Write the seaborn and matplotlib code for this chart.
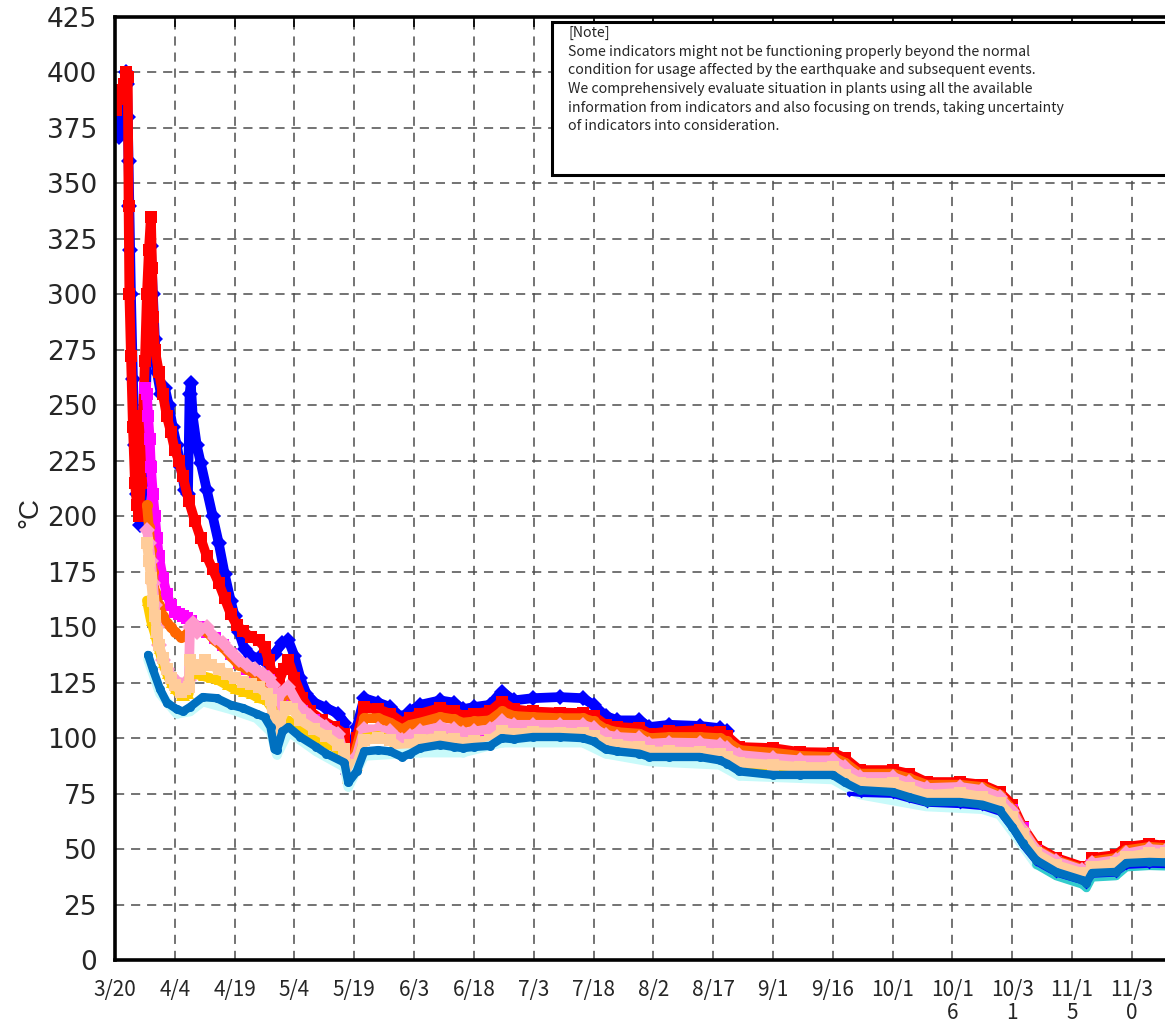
import matplotlib
matplotlib.use("Agg")
import matplotlib.pyplot as plt
from matplotlib.patches import Rectangle
import numpy as np
import pandas as pd
import seaborn as sns

START = pd.Timestamp("2011-03-20")

# (day offset from 3/20, temperature degC)
blue_pts = [(0.3,372),(1.0,371),(1.5,382),(2.2,390),(2.7,400),(3.0,395),(3.2,380),(3.4,360),(3.6,340),(3.8,320),
            (4.0,300),(4.5,262),(5.0,232),(5.5,210),(6.3,196),(7.0,215),(7.5,240),(8.0,270),(8.5,300),(9.0,322),
            (9.5,300),(10.0,280),(10.5,265),(11.5,255),(12.5,258),(13.5,250),(14.5,240),(15.5,232),(16.5,222),
            (17.5,212),(18.3,210),(18.7,255),(19.0,260),(19.5,245),(20.5,232),(21.5,224),(23.0,212),(24.5,200),
            (26.0,188),(27.5,174),(29.0,162),(30.0,155),(31.0,148),(32.5,140),(34.0,137),(36.0,136),(38.0,134),
            (40.0,138),(42.0,143),(43.5,144),(45.0,137),(46.5,127),(48.0,120),(50.0,116),(53.0,113.6),(56.0,111),
            (57.5,107),(58.5,84),(60.6,105),(62.5,118),(66,116),(69,114),(72,109),(74,112),(76.5,115),(81.5,117),
            (85,116),(87.2,113),(90,114),(94,115),(97,121),(100,117),(104.8,118),(111.5,118.5),(117.3,118),
            (120,115),(123,110),(126,108),(131.5,108),(134,105),(139,106),(146.6,105.5),(151.6,104.5),(153.5,103)]

blue_low_pts = [(184,75),(187,74.4),(195,74),(199,72),(203.5,70),(211.8,69.4),(217.5,68.5),(221.8,66),(225,58.5),
                (227.6,51),(231,43.5),(236,38.5),(242.6,35),(243.6,33.5),(245,38),(251,38.5),(253.6,42),
                (259.4,42.5),(263.5,42.3)]

red_pts = [(0.2,383),(0.8,388),(1.5,392),(2.2,395),(2.8,400),(3.2,398),(3.4,340),(3.6,300),(4.0,272),(4.5,240),
           (5.0,215),(5.5,205),(6.0,200),(6.5,215),(7.0,245),(7.5,270),(8.0,300),(8.5,320),(9.0,335),(9.3,312),
           (9.6,290),(10.0,275),(11,265),(12,255),(13,245),(14,238),(15,230),(16,225),(17,218),(18.5,207),
           (20,198),(21.5,190),(23,182),(24.5,176),(26,170),(27.5,163),(29,156),(30.5,151),(32,148.5),(34,145.5),
           (36,144),(37.5,141),(38.5,135),(39.5,129),(41,125),(42.3,131),(43.5,135),(45,127),(47,118),(49,112),
           (52,108),(55,105),(57.5,102),(58.5,84),(60.6,100),(62.5,114),(66,113),(69,111),(72,107),(74,109),
           (76.5,111),(81.5,113.6),(85,112),(87.2,110),(90,111),(94,112),(97,116.5),(100,113),(104.8,112),
           (111.5,111.5),(117.3,111.3),(120,110),(123,106),(126,105),(131.5,104.5),(134,102),(139,103),
           (146.6,103.6),(151.6,102.7),(153.5,101),(156.6,96),(165,95.5),(171.7,93.7),(180,93.5),(183,91),
           (186.7,85.6),(195,85.6),(199,84),(203.5,80.2),(211.8,80.2),(217.5,79),(221.8,75.7),(225,70),
           (227.6,60),(231,51),(236,46),(242.6,42),(243.6,40.6),(245,46),(251,47.3),(253.6,51),(259.4,52.3),
           (263.5,51.5)]

magenta_pts = [(7.5,258),(8.0,255),(8.3,245),(8.7,235),(9.0,222),(9.5,210),(10,200),(10.5,190),(11,182),(12,172),
               (13,165),(14,160),(15,157),(16,156),(17,155),(18,154),(19,153),(21,150),(23,148),(25,145),(27,142),
               (29,138),(31,134),(33,131),(35,130),(37,128),(38.5,126),(39.5,118),(40.5,112),(42,115),(43.5,118),
               (45,115),(47,112),(50,108),(53,104),(56,100),(58.5,83),(60.6,91),(62.5,103),(66,103),(69,102),
               (72,98),(74,100),(76.5,102),(81.5,104),(85,103),(87.2,101.5),(90,102),(94,103),(97,106.5),(100,105),
               (104.8,105),(111.5,105),(117.3,105),(120,103.5),(123,100.5),(126,99.5),(131.5,99),(134,96.5),
               (139,97),(146.6,96.8),(151.6,96),(153.5,94.5),(156.6,91.4),(165,90),(171.7,89),(180,89),(183,86),
               (186.7,81.5),(195,81.5),(199,79),(203.5,76.5),(211.8,77),(217.5,75.6),(221.8,72.5),(225,67.5),
               (227.6,59.5),(231,49),(236,44),(242.6,40),(243.6,38.5),(245,43),(251,44.5),(253.6,47.5),
               (259.4,49.5),(263.5,49)]

orange_pts = [(8.0,205),(8.5,195),(9.0,185),(9.5,175),(10,166),(11,160),(12,155),(13,152),(14,150),(15,148),
              (16.5,145.5),(17.5,146),(18.8,149),(21,149),(23,148),(25,144),(27,141),(29,137),(31,133),(33,131),
              (35,129),(37,127),(38.5,125),(39.5,121),(40.5,116),(42,119),(43.5,121),(46,114),(49,109),
              (53,104.5),(56,101.5),(58.5,83.5),(60.6,96),(62.5,109),(66,109),(69,107),(72,104),(74,106),
              (76.5,107),(81.5,109.5),(85,108.5),(87.2,107),(90,107.5),(94,108),(97,112),(100,110),(104.8,109.5),
              (111.5,109),(117.3,109),(120,107.5),(123,104),(126,102.7),(131.5,102),(134,100),(139,100.5),
              (146.6,100.5),(151.6,100),(153.5,98.5),(156.6,94.6),(165,93.5),(171.7,92),(180,91.5),(183,89),
              (186.7,84),(195,84),(199,82),(203.5,79),(211.8,79),(217.5,78),(221.8,74.5),(225,68),(227.6,59),
              (231,50),(236,45),(242.6,41),(243.6,39.5),(245,44.5),(251,46),(253.6,49.5),(259.4,51),(263.5,50.5)]

pink_pts = [(8.0,194),(8.5,188),(9.0,180),(9.5,170),(10,160),(10.5,150),(11,142),(12,135),(13,131),(14,128),
            (15,126),(16.5,124),(17.5,125),(18.5,126),(18.8,150),(19.5,152),(20.5,148),(21.5,149),(23,150),
            (25,145),(27,143),(29,139),(31,135),(33,133),(35,131),(37,129),(38.5,127),(39.5,124),(40.5,114),
            (41.5,120),(43.5,123),(46,115),(49,110),(53,105),(56,102),(58.5,84),(60.6,92),(62.5,104),(66,104),
            (69,103),(72,99),(74,101),(76.5,103),(81.5,105),(85,104),(87.2,102.5),(90,103),(94,104),(97,107.5),
            (100,106),(104.8,106),(111.5,106),(117.3,106),(120,104.5),(123,101.5),(126,100.5),(131.5,100),
            (134,97.5),(139,98),(146.6,97.8),(151.6,97),(153.5,95.5),(156.6,92.4),(165,91),(171.7,90),(180,90),
            (183,87),(186.7,82.5),(195,82.5),(199,80),(203.5,77.5),(211.8,78),(217.5,76.6),(221.8,73.5),(225,67),
            (227.6,58.6),(231,49.5),(236,44.5),(242.6,40.5),(243.6,39),(245,43.5),(251,45),(253.6,48),
            (259.4,50),(263.5,49.5)]

gold_pts = [(8.0,162),(9,153),(10,147),(11,140),(12,134),(13,129),(14,125),(15,122),(16.5,119),(17.5,119),
            (18.5,120),(18.8,129),(20,129),(22,128),(24,127),(26,126),(28,124),(30,122),(32,121),(34,120),
            (36,118),(38,117),(39.5,113),(40.5,100),(42,104),(43.5,108),(46,104),(50,100),(54,97),(57.5,93),
            (58.5,82),(60.6,87),(62.5,100),(66,101),(69,99),(72,94),(74,95.5),(76.5,97),(81.5,98.5),(87.2,96.5),
            (94,97.5),(97,101),(104.8,101),(117.3,100.5),(126,95.5),(134,92.5),(151.6,91.5),(156.6,87.5),
            (180,85.5),(186.7,78.5),(203.5,73),(217.5,72),(221.8,69.5),(225,63),(231,47),(243.6,36.5),
            (253.6,45.5),(263.5,47)]

peach_pts = [(8.0,188),(8.5,180),(9.0,172),(9.5,162),(10,155),(10.5,148),(11,142),(12,136),(13,131),(14,127),
             (15,124),(16.5,121),(17.5,122),(18.5,123),(18.8,135),(20,133),(21.3,131),(22.5,135),(24,133),
             (26,131),(28,129),(30,127),(32,125.5),(34,124.5),(36,123),(38,120),(39,117),(39.5,110),(40.5,103),
             (41.5,108),(43,114),(44.5,113),(46.5,108),(50,104),(53,101),(56,97),(57.5,95),(58.5,82),(60.6,88),
             (62.5,99),(66,100),(69,99),(72,95),(74,97),(76.5,99),(81.5,100.5),(85,99.5),(87.2,98),(90,98.5),
             (94,99),(97,103),(100,102),(104.8,102.7),(111.5,102.5),(117.3,102.3),(120,101),(123,98),(126,97),
             (131.5,96),(134,94),(139,94),(146.6,93.7),(151.6,93),(153.5,91.5),(156.6,89),(165,88),(171.7,87),
             (180,87),(183,83.4),(186.7,79.8),(195,79.8),(199,77.5),(203.5,74.4),(211.8,75.3),(217.5,73.5),
             (221.8,70.8),(225,64.4),(227.6,57),(231,48),(236,42.8),(242.6,39.2),(243.6,37.5),(245,42),
             (251,43.7),(253.6,46.4),(259.4,48.2),(263.5,48)]

cyan_pts = [(8.3,135.5),(11.3,120),(15.5,111),(18.8,112),(22,116.5),(29,113),(35.5,109),(39,103),(40.6,92.5),
            (43.5,103),(50.5,94),(57.5,87),(58.5,78),(62.5,92),(76.5,93.5),(87.2,93.5),(97,98),(117.3,98),
            (123,93),(134,89.5),(151.6,88),(156.6,83),(180,81.4),(186.7,74.6),(203.5,69.2),(217.5,68),
            (221.8,65.6),(225,58),(231,43)]

teal_pts = [(231,43),(236,37.8),(242.6,34),(243.6,32.4),(245,37.2),(251,37.8),(253.6,41.8),(259.4,42.4),
            (263.5,42.2)]

bluemed_pts = [(8.3,137.5),(9.5,131),(11.3,122),(13,116),(15.5,113),(17,112),(18.8,114),(22,118.5),(25.5,118),
               (29,115),(32,113.6),(35.5,111),(37.5,109.5),(39,105),(40,95),(40.6,94.6),(42,103),(43.5,105),
               (46.5,100.5),(50.5,96),(53,93),(57.5,89),(58.5,80),(60.6,85),(62.5,94),(66,94.6),(69,94),
               (72,91.5),(74,93),(76.5,95.5),(81.5,97),(85,96),(87.2,95.5),(90,96),(94,96.5),(97,100),(100,99.5),
               (104.8,100.5),(111.5,100.5),(117.3,100),(120,98.5),(123,95),(126,94),(131.5,93),(134,91.5),
               (139,91.5),(146.6,91.5),(151.6,90),(153.5,88.5),(156.6,85),(165,83.4),(171.7,83.4),(180,83.4),
               (183,80),(186.7,76.6),(195,75.7),(199,73.5),(203.5,71.2),(211.8,71.2),(217.5,70),(221.8,67.6),
               (225,60),(227.6,52.7),(231,45),(236,39.7),(242.6,36),(243.6,34.7),(245,39.2),(251,39.7),
               (253.6,43.7),(259.4,44.2),(263.5,44)]

tick_labels = ["3/20", "4/4", "4/19", "5/4", "5/19", "6/3", "6/18", "7/3", "7/18", "8/2", "8/17",
               "9/1", "9/16", "10/1", "10/1\n6", "10/3\n1", "11/1\n5", "11/3\n0"]
tick_step_days = 15
y_ticks = list(range(0, 426, 25))

note_text = ("[Note]\n"
             "Some indicators might not be functioning properly beyond the normal\n"
             "condition for usage affected by the earthquake and subsequent events.\n"
             "We comprehensively evaluate situation in plants using all the available\n"
             "information from indicators and also focusing on trends, taking uncertainty\n"
             "of indicators into consideration.")

# drawing order, colour, marker, line width, marker size
series = [
    ("blue", blue_pts, "#0000FF", "D", 7.0, 8.5),
    ("red", red_pts, "#FF0000", "s", 7.0, 8.0),
    ("magenta", magenta_pts, "#FF00FF", "s", 7.0, 8.0),
    ("orange", orange_pts, "#FF6600", "o", 7.0, 8.0),
    ("pink", pink_pts, "#FF99CC", "D", 7.0, 8.0),
    ("gold", gold_pts, "#FFCC00", "^", 7.0, 7.5),
    ("peach", peach_pts, "#FFCC99", "s", 7.0, 8.0),
    ("cyan", cyan_pts, "#C8FAFA", "o", 7.0, 6.0),
    ("teal", teal_pts, "#33CCCC", "o", 6.0, 5.0),
    ("blue_low", blue_low_pts, "#0000FF", "D", 3.0, 3.0),
    ("bluemed", bluemed_pts, "#0070C0", "o", 6.0, 6.5),
]

sns.set_style("white")
plt.rcParams["font.family"] = ["Liberation Sans", "DejaVu Sans"]

fig = plt.figure(figsize=(11.65, 10.24), dpi=100)
ax = fig.add_axes([115 / 1165, 64 / 1024, 1050 / 1165, 943 / 1024])

for name, pts, color, marker, lw, ms in series:
    df = pd.DataFrame(pts, columns=["day", "temp"])
    df["date"] = START + pd.to_timedelta(df["day"], unit="D")
    sns.lineplot(data=df, x="date", y="temp", ax=ax, color=color, marker=marker,
                 markersize=ms, markeredgewidth=0, linewidth=lw, estimator=None,
                 sort=False, legend=False, solid_joinstyle="round", solid_capstyle="round")

tick_dates = [START + pd.Timedelta(days=tick_step_days * i) for i in range(len(tick_labels))]
ax.set_xlim(START, START + pd.Timedelta(days=263.3))
ax.set_ylim(0, 425)
ax.set_xticks(tick_dates)
ax.set_xticklabels(tick_labels, fontsize=15, family=["Noto Sans CJK JP", "DejaVu Sans"],
                   linespacing=1.02)
ax.set_yticks(y_ticks)
ax.set_yticklabels([str(v) for v in y_ticks], fontsize=19, family=["DejaVu Sans"])
ax.set_xlabel("")
ax.set_ylabel("")

ax.grid(True, which="major", color="#4d4d4d", linestyle=(0, (6, 4.5)), linewidth=1.1)
ax.set_axisbelow(True)
ax.tick_params(axis="both", direction="in", length=7, width=1.2, color="black",
               top=True, right=False)
ax.tick_params(axis="x", pad=14)
ax.tick_params(axis="y", pad=13)
for side in ["left", "bottom", "top"]:
    ax.spines[side].set_linewidth(2.6)
    ax.spines[side].set_color("black")
ax.spines["right"].set_visible(False)

fig.text(30 / 1165, 0.5, "°C", rotation=90, fontsize=20, ha="center", va="center")

box = Rectangle((552 / 1165, 1 - 175 / 1024), 0.6, (175 - 22) / 1024, transform=fig.transFigure,
                facecolor="white", edgecolor="black", linewidth=2.2, zorder=10, clip_on=False)
fig.patches.append(box)
fig.text(568 / 1165, 1 - 26 / 1024, note_text, fontsize=10.2, ha="left", va="top",
         family=["Noto Sans CJK JP", "DejaVu Sans"], linespacing=1.42, zorder=11)

fig.savefig("out.png", dpi=100)
